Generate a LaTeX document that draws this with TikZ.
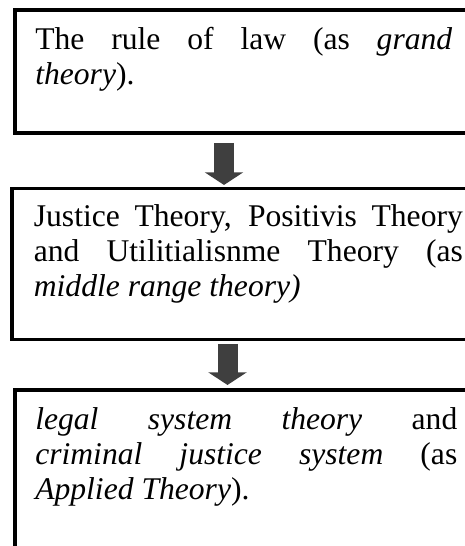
\documentclass[tikz,border=0pt]{standalone}
\usepackage{fontspec}
\setmainfont{Liberation Serif}
\usetikzlibrary{arrows.meta,calc,positioning}
\definecolor{arrowgray}{HTML}{3F3F3F}
\tikzstyle{theory}=[draw,rectangle,anchor=north west,align=justify,inner ysep=0pt,font=\fontsize{23.7}{26.25}\selectfont]
\tikzstyle{down}=[arrowgray,line width=15pt,-{Triangle[length=9.5pt,width=28.5pt]}]

\begin{document}
\begin{tikzpicture}[x=0.75pt,y=-0.75pt]
      \path[use as bounding box] (0,0) rectangle (464,546);

\node[theory,line width=3.4pt,inner xsep=15.4pt,text width=312.75pt,text height=30pt,text depth=62.25pt] (T1) at (12.5,7.5)
  {The rule of law (as \textit{grand}\linebreak \textit{theory}).};
\node[theory,line width=2.8pt,inner xsep=16.5pt,text width=321.75pt,text height=28.7pt,text depth=84.4pt] (T2) at (10,186.7)
  {Justice Theory, Positivis Theory\linebreak and Utilitialisnme Theory (as\linebreak \textit{middle range theory)}};
\node[theory,line width=3.4pt,inner xsep=15.4pt,text width=316.5pt,text height=29.6pt,text depth=150pt] (T3) at (12.5,387.5)
  {\textit{legal system theory} and\linebreak \textit{criminal justice system} (as\linebreak \textit{Applied Theory}).};

      \coordinate (x1) at (224,0);
      \coordinate (x2) at (227.5,0);
      \draw[down,shorten <=5.9pt,shorten >=1.3pt] (T1.south -| x1) -- (T2.north -| x1);
      \draw[down,shorten <=1.9pt,shorten >=1.9pt] (T2.south -| x2) -- (T3.north -| x2);

\end{tikzpicture}
\end{document}
